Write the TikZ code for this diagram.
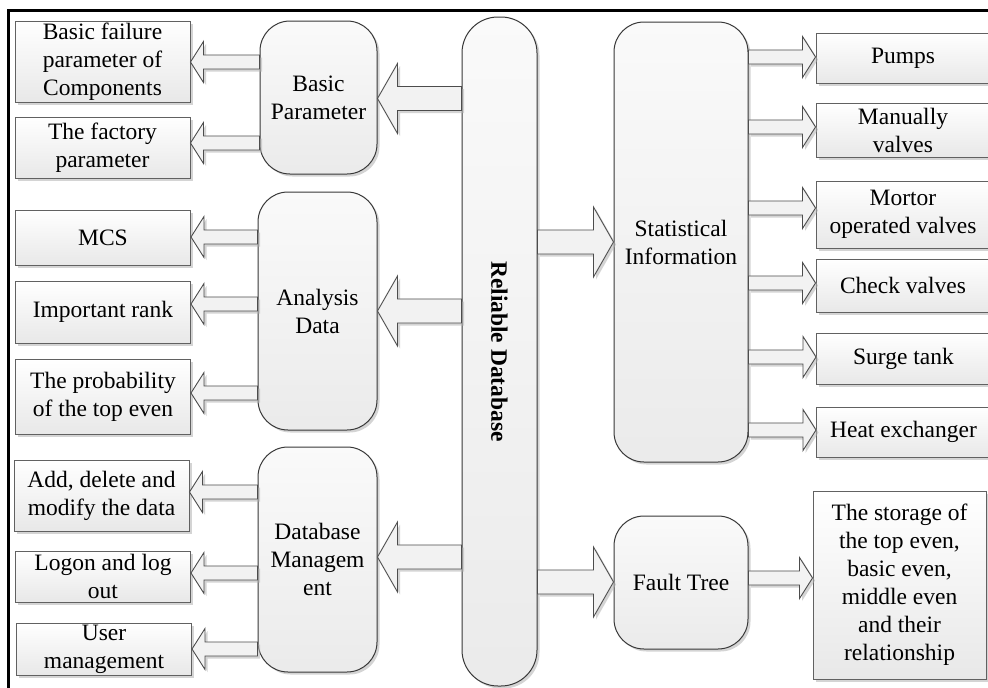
\documentclass[tikz,border=0pt]{standalone}
\usepackage{fontspec}
\setmainfont{Liberation Serif}
\usetikzlibrary{shadows,calc}
\tikzset{
  every node/.style={font=\fontsize{23.5pt}{28pt}\selectfont, align=center, inner sep=0pt},
  myshadow/.style={drop shadow={shadow xshift=2.5pt, shadow yshift=-2.5pt, fill=black!30, opacity=0.55}},
  rectbox/.style={rectangle, draw=black!62, line width=1pt, top color=white, bottom color=black!9, myshadow},
  roundbox/.style={rectangle, rounded corners=30pt, draw=black!78, line width=1pt, top color=black!2, bottom color=black!8, myshadow},
  blockarrow/.style={draw=black!70, line width=0.9pt, fill=black!5, myshadow, line join=miter},
}
\newcommand\blk[6]{%
  \coordinate (yy) at (0,#6);
  \path[blockarrow] let \p1=(#4 |- yy), \p2=(#5 |- yy), \n1={\x2-#3*sign(\x2-\x1)} in
    (\x1,\y1+#1pt) -- (\n1,\y1+#1pt) -- (\n1,\y1+#2pt) -- (\x2,\y1) -- (\n1,\y1-#2pt) -- (\n1,\y1-#1pt) -- (\x1,\y1-#1pt) -- cycle;}
\newcommand\bigarr[3]{\blk{12}{35}{20}{#1}{#2}{#3}}
\newcommand\smallarr[3]{\blk{7}{20.5}{13}{#1}{#2}{#3}}
\begin{document}
\begin{tikzpicture}[x=1pt,y=-1pt]
\useasboundingbox (0,0) rectangle (988,688);
\fill[white] (0,0) rectangle (988,688);
\draw[line width=2.5pt] (8.5,690) -- (8.5,10.5) -- (990,10.5);

% left boxes
\node[rectbox, minimum width=175pt, minimum height=81pt] (b1) at (102.5,61.5) {Basic failure\\parameter of\\Components};
\node[rectbox, minimum width=175pt, minimum height=61pt] (b2) at (102.5,147.5) {The factory\\parameter};
\node[rectbox, minimum width=175pt, minimum height=55pt] (b3) at (103,237.5) {MCS};
\node[rectbox, minimum width=175pt, minimum height=62pt] (b4) at (103,312) {Important rank};
\node[rectbox, minimum width=175pt, minimum height=75pt] (b5) at (103,396.5) {The probability\\of the top even};
\node[rectbox, minimum width=175pt, minimum height=71pt] (b6) at (101.5,495.5) {Add, delete and\\modify the data};
\node[rectbox, minimum width=175pt, minimum height=51pt] (b7) at (103,576.5) {Logon and log\\out};
\node[rectbox, minimum width=175pt, minimum height=52pt] (b8) at (104,649) {User\\management};

% middle rounded boxes
\node[roundbox, minimum width=117pt, minimum height=153pt] (bp) at (318.5,97.5) {Basic\\Parameter};
\node[roundbox, minimum width=119pt, minimum height=238pt] (ad) at (317.5,311) {Analysis\\Data};
\node[roundbox, minimum width=119pt, minimum height=225pt] (dm) at (317.5,559.5) {Database\\Managem\\ent};
\node[roundbox, rounded corners=36pt, minimum width=75pt, minimum height=669pt] (db) at (499.5,351.5) {};
\node[rotate=-90, font=\fontsize{23.5pt}{28pt}\selectfont\bfseries] (dbt) at (db.center) {Reliable Database};
\node[roundbox, minimum width=134pt, minimum height=440pt] (si) at (681,242) {Statistical\\Information};
\node[roundbox, minimum width=134pt, minimum height=133pt] (ft) at (681,582.5) {Fault Tree};

% right boxes
\node[rectbox, minimum width=174pt, minimum height=50pt] (r1) at (903,58) {Pumps};
\node[rectbox, minimum width=174pt, minimum height=54pt] (r2) at (903,130) {Manually\\valves};
\node[rectbox, minimum width=174pt, minimum height=67pt] (r3) at (903,214.5) {Mortor\\operated valves};
\node[rectbox, minimum width=174pt, minimum height=53pt] (r4) at (903,285.5) {Check valves};
\node[rectbox, minimum width=174pt, minimum height=51pt] (r5) at (903.5,358.5) {Surge tank};
\node[rectbox, minimum width=174pt, minimum height=50pt] (r6) at (903.5,432) {Heat exchanger};
\node[rectbox, minimum width=173pt, minimum height=188pt] (st) at (899.5,585) {The storage of\\the top even,\\basic even,\\middle even\\and their\\relationship};

% big arrows
\bigarr{db.west}{bp.east}{98.5}
\bigarr{db.west}{ad.east}{311}
\bigarr{db.west}{dm.east}{557}
\bigarr{db.east}{si.west}{242}
\bigarr{db.east}{ft.west}{582}

% small arrows
\smallarr{bp.west}{b1.east}{62}
\smallarr{bp.west}{b2.east}{143}
\smallarr{ad.west}{b3.east}{237}
\smallarr{ad.west}{b4.east}{304}
\smallarr{ad.west}{b5.east}{393}
\smallarr{dm.west}{b6.east}{492}
\smallarr{dm.west}{b7.east}{573}
\smallarr{dm.west}{b8.east}{649}
\smallarr{si.east}{r1.west}{57}
\smallarr{si.east}{r2.west}{127}
\smallarr{si.east}{r3.west}{208}
\smallarr{si.east}{r4.west}{283}
\smallarr{si.east}{r5.west}{357}
\smallarr{si.east}{r6.west}{430}
\smallarr{ft.east}{st.west}{578}
\end{tikzpicture}
\end{document}
